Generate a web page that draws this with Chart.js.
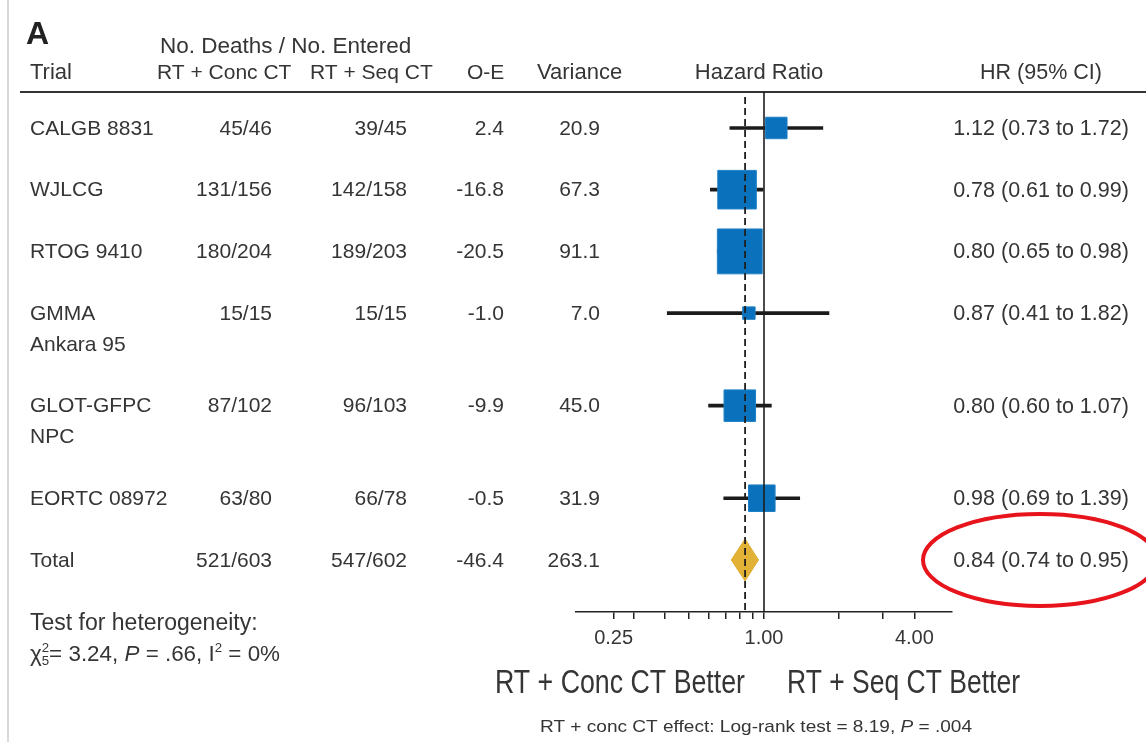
<!DOCTYPE html>
<html>
<head>
<meta charset="utf-8">
<title>Forest plot: RT + concurrent vs sequential CT</title>
<script src="https://cdn.jsdelivr.net/npm/chart.js@4.4.1/dist/chart.umd.min.js"></script>
<style>
  html, body { margin: 0; padding: 0; background: #fff; }
  canvas { display: block; }
</style>
</head>
<body>
<canvas id="forest" width="1146" height="742"></canvas>
<script>
// ---- Trial data -------------------------------------------------------
const trialNames = [['CALGB 8831'], ['WJLCG'], ['RTOG 9410'], ['GMMA', 'Ankara 95'], ['GLOT-GFPC', 'NPC'], ['EORTC 08972']];
const concDeaths = ['45/46', '131/156', '180/204', '15/15', '87/102', '63/80'];
const seqDeaths = ['39/45', '142/158', '189/203', '15/15', '96/103', '66/78'];
const observedMinusExpected = [2.4, -16.8, -20.5, -1.0, -9.9, -0.5];
const variances = [20.9, 67.3, 91.1, 7.0, 45.0, 31.9];
const hazardRatios = [1.12, 0.78, 0.80, 0.87, 0.80, 0.98];
const ciLower = [0.73, 0.61, 0.65, 0.41, 0.60, 0.69];
const ciUpper = [1.72, 0.99, 0.98, 1.82, 1.07, 1.39];

// ---- Pooled estimate ---------------------------------------------------
const totalLabel = 'Total';
const totalConc = '521/603';
const totalSeq = '547/602';
const totalOE = -46.4;
const totalVariance = 263.1;
const totalHR = 0.84;
const totalLower = 0.74;
const totalUpper = 0.95;

// ---- Axis ticks ---------------------------------------------------------
const axisTicks = [0.25, 0.3, 0.4, 0.5, 0.6, 0.7, 0.8, 0.9, 1, 2, 3, 4];
const labelledTicks = [0.25, 1, 4];
const NO_EFFECT = 1;

// ---- Layout constants ----------------------------------------------------
const FONT = '"Liberation Sans", Arial, Helvetica, sans-serif';
const TEXT = '#353535';
const SIDE_PER_ROOT_VAR = 4.7;      // square side (px) per sqrt(variance)
const DIAMOND_HALF = 0.34;          // diamond half-height in row units
const Y_TOP = -0.583;               // row units above the first row
const Y_BOTTOM_EXTRA = 0.844;       // row units below the total row

// Row slots: two-line trial names take an extra half row
const rowPos = [];
let slot = 0;
trialNames.forEach(n => { rowPos.push(slot); slot += n.length > 1 ? 1.5 : 1; });
const totalPos = slot;
const yMin = Y_TOP;
const yMax = totalPos + Y_BOTTOM_EXTRA;

const fmtCI = (hr, lo, hi) => `${hr.toFixed(2)} (${lo.toFixed(2)} to ${hi.toFixed(2)})`;

// Draws a sequence of styled text runs, optionally squeezed to a width
function drawRuns(ctx, runs, x, y, size, targetWidth) {
  const fontFor = r => `${r.italic ? 'italic ' : ''}${r.small ? Math.round(size * 0.6) : size}px ${FONT}`;
  let total = 0;
  runs.forEach(r => { ctx.font = fontFor(r); if (!r.noAdvance) total += ctx.measureText(r.t).width; });
  const sx = targetWidth ? targetWidth / total : 1;
  ctx.save();
  ctx.translate(x, y);
  ctx.scale(sx, 1);
  let cx = 0;
  runs.forEach(r => {
    ctx.font = fontFor(r);
    ctx.fillText(r.t, cx, r.dy || 0);
    if (!r.noAdvance) cx += ctx.measureText(r.t).width;
  });
  ctx.restore();
}

function text(ctx, s, x, y, align, size, maxWidth, weight) {
  ctx.font = `${weight || ''} ${size}px ${FONT}`;
  ctx.textAlign = align;
  if (maxWidth) ctx.fillText(s, x, y, maxWidth); else ctx.fillText(s, x, y);
}

const tablePlugin = {
  id: 'forestTable',
  beforeDraw(chart) {
    const { ctx, chartArea } = chart;
    ctx.save();
    // page edge
    ctx.strokeStyle = '#d9d9d9';
    ctx.lineWidth = 2;
    ctx.beginPath(); ctx.moveTo(8, 0); ctx.lineTo(8, chart.height); ctx.stroke();
    // header rule
    ctx.strokeStyle = '#333';
    ctx.lineWidth = 2;
    ctx.beginPath(); ctx.moveTo(20, chartArea.top); ctx.lineTo(chart.width, chartArea.top); ctx.stroke();
    ctx.restore();
  },
  afterDraw(chart) {
    const { ctx, chartArea, scales: { y } } = chart;
    ctx.save();

    // panel letter
    ctx.fillStyle = '#222';
    ctx.textBaseline = 'alphabetic';
    text(ctx, 'A', 26, 44, 'left', 32, null, 'bold');
    ctx.textBaseline = 'middle';
    ctx.fillStyle = TEXT;

    // column headers
    const hTop = chartArea.top - 45, hRow = chartArea.top - 19;
    text(ctx, 'No. Deaths / No. Entered', 160, hTop, 'left', 22.5);
    text(ctx, 'Trial', 30, hRow, 'left', 22);
    text(ctx, 'RT + Conc CT', 157, hRow, 'left', 21);
    text(ctx, 'RT + Seq CT', 310, hRow, 'left', 21);
    text(ctx, 'O-E', 467, hRow, 'left', 21);
    text(ctx, 'Variance', 537, hRow, 'left', 22);
    text(ctx, 'Hazard Ratio', 759, hRow, 'center', 22);
    text(ctx, 'HR (95% CI)', 1041, hRow, 'center', 21.5);

    // table rows
    const row = (names, conc, seq, oe, v, ci, pos) => {
      const py = y.getPixelForValue(pos) + 1;
      names.forEach((n, k) => text(ctx, n, 30, y.getPixelForValue(pos + 0.5 * k) + 1, 'left', 21));
      text(ctx, conc, 272, py, 'right', 21);
      text(ctx, seq, 407, py, 'right', 21);
      text(ctx, oe.toFixed(1), 504, py, 'right', 21);
      text(ctx, v.toFixed(1), 600, py, 'right', 21);
      text(ctx, ci, 1041, py, 'center', 21.5);
    };
    trialNames.forEach((n, i) => row(n, concDeaths[i], seqDeaths[i], observedMinusExpected[i], variances[i],
      fmtCI(hazardRatios[i], ciLower[i], ciUpper[i]), rowPos[i]));
    row([totalLabel], totalConc, totalSeq, totalOE, totalVariance, fmtCI(totalHR, totalLower, totalUpper), totalPos);

    // heterogeneity note
    text(ctx, 'Test for heterogeneity:', 30, 624, 'left', 23, 232);
    ctx.textAlign = 'left';
    drawRuns(ctx, [
      { t: '\u03C7' },
      { t: '2', small: true, dy: -7, noAdvance: true },
      { t: '5', small: true, dy: 6 },
      { t: '= 3.24, ' },
      { t: 'P', italic: true },
      { t: ' = .66, I' },
      { t: '2', small: true, dy: -7 },
      { t: ' = 0%' }
    ], 30, 655, 22, 250);

    // direction labels
    text(ctx, 'RT + Conc CT Better', 495, 684, 'left', 33, 250);
    text(ctx, 'RT + Seq CT Better', 787, 684, 'left', 33, 233);

    // overall effect test
    ctx.textAlign = 'left';
    drawRuns(ctx, [
      { t: 'RT + conc CT effect: Log-rank test = 8.19, ' },
      { t: 'P', italic: true },
      { t: ' = .004' }
    ], 540, 727, 17, 432);

    // highlight around the pooled estimate
    ctx.strokeStyle = '#e8141c';
    ctx.lineWidth = 4;
    ctx.beginPath();
    ctx.ellipse(1040, y.getPixelForValue(totalPos), 117, 46, 0, 0, Math.PI * 2);
    ctx.stroke();
    ctx.restore();
  }
};

const datasets = [
  {
    // confidence intervals
    type: 'bar',
    indexAxis: 'y',
    data: hazardRatios.map((_, i) => ({ x: [ciLower[i], ciUpper[i]], y: rowPos[i] })),
    backgroundColor: '#1b1b1b',
    borderWidth: 0,
    barThickness: 3,
    order: 3
  },
  {
    // trial estimates, square area proportional to variance
    type: 'scatter',
    data: hazardRatios.map((hr, i) => ({ x: hr, y: rowPos[i] })),
    pointStyle: 'rect',
    pointRadius: c => SIDE_PER_ROOT_VAR * Math.sqrt(variances[c.dataIndex]) / Math.SQRT2,
    backgroundColor: '#0a72bd',
    borderColor: '#1f80c6',
    borderWidth: 1,
    order: 2
  },
  {
    // pooled estimate diamond
    type: 'line',
    showLine: true,
    data: [
      { x: totalLower, y: totalPos },
      { x: totalHR, y: totalPos - DIAMOND_HALF },
      { x: totalUpper, y: totalPos },
      { x: totalHR, y: totalPos + DIAMOND_HALF },
      { x: totalLower, y: totalPos }
    ],
    fill: 'shape',
    backgroundColor: '#e2b236',
    borderColor: '#dcaa2c',
    borderWidth: 1,
    pointRadius: 0,
    tension: 0,
    order: 1
  },
  {
    // line of no effect
    type: 'line',
    showLine: true,
    data: [{ x: NO_EFFECT, y: yMin }, { x: NO_EFFECT, y: yMax }],
    borderColor: '#1e1e1e',
    borderWidth: 1.6,
    pointRadius: 0,
    order: 0
  },
  {
    // pooled hazard ratio reference
    type: 'line',
    showLine: true,
    data: [{ x: totalHR, y: yMin + 0.08 }, { x: totalHR, y: yMax - 0.03 }],
    borderColor: '#1e1e1e',
    borderWidth: 1.8,
    borderDash: [7, 4],
    pointRadius: 0,
    order: -1
  }
];

new Chart(document.getElementById('forest'), {
  type: 'scatter',
  data: { datasets },
  options: {
    responsive: false,
    animation: false,
    events: [],
    layout: { padding: { left: 576, right: 194, top: 92, bottom: 90 } },
    plugins: { legend: { display: false }, tooltip: { enabled: false } },
    scales: {
      x: {
        type: 'logarithmic',
        min: Math.pow(2, -2.5),
        max: Math.pow(2, 2.5),
        offset: false,
        afterBuildTicks: s => { s.ticks = axisTicks.map(v => ({ value: v })); },
        afterFit: s => { s.height = 40; },
        ticks: {
          autoSkip: false,
          maxRotation: 0,
          padding: 7,
          color: TEXT,
          font: { family: FONT, size: 20 },
          callback: v => labelledTicks.includes(v) ? v.toFixed(2) : ''
        },
        grid: { drawOnChartArea: false, drawTicks: true, tickLength: 7, color: '#222', lineWidth: 1.5 },
        border: { display: true, color: '#222', width: 1.5 }
      },
      y: {
        type: 'linear',
        reverse: true,
        min: yMin,
        max: yMax,
        offset: false,
        display: false
      }
    }
  },
  plugins: [tablePlugin]
});
</script>
</body>
</html>
